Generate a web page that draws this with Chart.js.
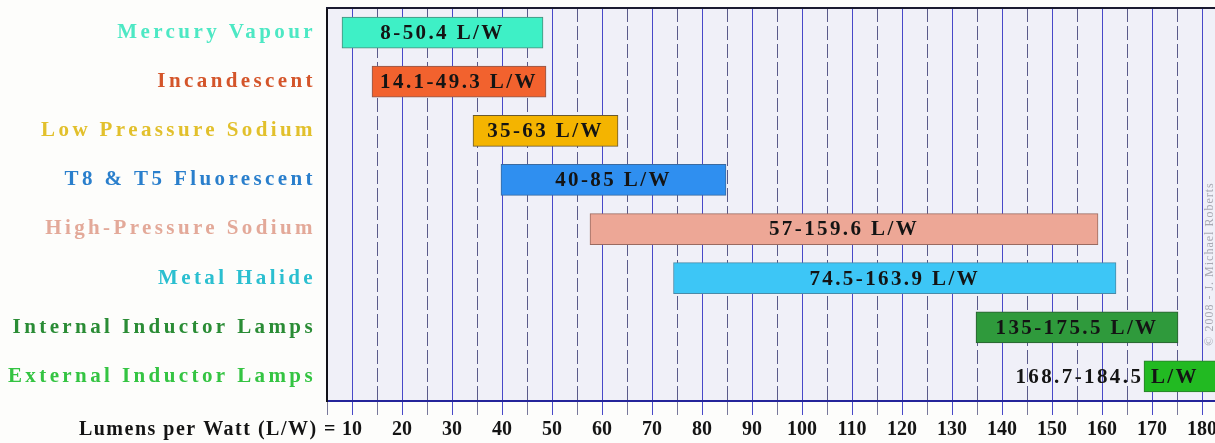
<!DOCTYPE html>
<html><head><meta charset="utf-8">
<script src="https://cdn.jsdelivr.net/npm/chart.js@4/dist/chart.umd.min.js"></script>
<style>html,body{margin:0;padding:0;background:#fdfdfb;overflow:hidden}canvas{display:block}</style>
</head><body>
<canvas id="c" width="1215" height="443"></canvas>
<script>
const categories = ['Mercury Vapour','Incandescent','Low Preassure Sodium','T8 & T5 Fluorescent','High-Pressure Sodium','Metal Halide','Internal Inductor Lamps','External Inductor Lamps'];
const lowValues  = [8, 14, 34.2, 39.8, 57.6, 74.3, 134.8, 168.4];
const highValues = [48.2, 48.8, 63.2, 84.8, 159.2, 162.8, 175.2, 184.5];
const rangeLabels = ['8-50.4 L/W','14.1-49.3 L/W','35-63 L/W','40-85 L/W','57-159.6 L/W','74.5-163.9 L/W','135-175.5 L/W','168.7-184.5 L/W'];
const labelColors = ['#4de8c4','#d4552a','#e2c02c','#2a7fcc','#e3a999','#2bbfd0','#2a8c35','#34c442'];
const barColors = ['#3ef0c6','#f2622e','#f4b400','#2f8ff0','#eda796','#3dc6f6','#2f9a3c','#22ba22'];
const barBorderColors = ['#4a8a7a','#8a5a50','#6a5a30','#3a6aa0','#9a6a60','#4a8aa8','#2a5a30','#2a7a2a'];
const axisTitle = 'Lumens per Watt (L/W) =';
const copyright = '\u00A9 2008 - J. Michael Roberts';
const xMin = 5, xMax = 182.6, xStep = 5;

const SERIF = '"Liberation Serif", "Times New Roman", serif';
const isMajor = v => Math.abs(v % 10) < 1e-6;

const decor = {
  id: 'decor',
  beforeDraw(chart) {
    const {ctx, chartArea: a} = chart;
    ctx.save();
    ctx.fillStyle = '#f0f0f8';
    ctx.fillRect(a.left, a.top, a.right - a.left, a.bottom - a.top);
    ctx.restore();
    ctx.letterSpacing = '3.4px';
  },
  afterDatasetsDraw(chart) {
    const {ctx, chartArea: a} = chart;
    const meta = chart.getDatasetMeta(0);
    ctx.save();
    ctx.letterSpacing = '2.4px';
    ctx.font = 'bold 21px ' + SERIF;
    ctx.fillStyle = '#141414';
    ctx.textAlign = 'center';
    ctx.textBaseline = 'middle';
    meta.data.forEach((el, i) => {
      const txt = rangeLabels[i];
      const w = ctx.measureText(txt).width;
      let cx = (el.x + el.base) / 2;
      if (cx + w / 2 > a.right - 16) cx = a.right - 16 - w / 2;
      ctx.fillText(txt, cx, el.y + 1);
    });
    ctx.restore();
    ctx.letterSpacing = '0px';
  },
  afterDraw(chart) {
    const {ctx, chartArea: a, scales} = chart;
    ctx.save();
    ctx.strokeStyle = '#1a1a30';
    ctx.lineWidth = 2;
    ctx.beginPath();
    ctx.moveTo(a.left - 1, a.top);
    ctx.lineTo(a.right, a.top);
    ctx.stroke();
    ctx.letterSpacing = '1.5px';
    ctx.font = 'bold 20px ' + SERIF;
    ctx.fillStyle = '#141414';
    ctx.textAlign = 'right';
    ctx.textBaseline = 'middle';
    ctx.fillText(axisTitle, scales.x.getPixelForValue(10) - 15, a.bottom + 29);
    ctx.letterSpacing = '1px';
    ctx.font = '12px ' + SERIF;
    ctx.fillStyle = '#a8a8b2';
    ctx.textAlign = 'center';
    ctx.translate(1210, 264);
    ctx.rotate(-Math.PI / 2);
    ctx.fillText(copyright, 0, 0);
    ctx.restore();
  }
};

new Chart(document.getElementById('c'), {
  type: 'bar',
  data: {
    labels: categories,
    datasets: [{
      data: lowValues.map((l, i) => [l, highValues[i]]),
      backgroundColor: barColors,
      borderColor: barBorderColors,
      borderWidth: 1,
      borderSkipped: false,
      barThickness: 31
    }]
  },
  options: {
    indexAxis: 'y',
    responsive: false,
    animation: false,
    devicePixelRatio: 1,
    layout: { padding: { top: 8, right: 0, bottom: 0, left: 0 } },
    plugins: { legend: { display: false }, tooltip: { enabled: false } },
    scales: {
      x: {
        type: 'linear',
        min: xMin, max: xMax,
        afterFit(s) { s.height = 42; s.paddingLeft = 0; s.paddingRight = 0; },
        ticks: {
          stepSize: xStep,
          includeBounds: false,
          autoSkip: false,
          maxRotation: 0,
          padding: 3,
          z: 1,
          color: '#141414',
          font: { family: SERIF, size: 20, weight: 'bold' },
          callback: v => isMajor(v) ? String(v) : ''
        },
        grid: {
          color: c => (c.tick && isMajor(c.tick.value)) ? '#4848c8' : '#5a5a8a',
          lineWidth: 1,
          tickLength: 14,
          tickColor: c => (c.tick && isMajor(c.tick.value)) ? '#4848c8' : '#78789a'
        },
        border: {
          display: true, color: '#24249a', width: 2,
          dash: c => (c.tick && !isMajor(c.tick.value)) ? [14, 4] : []
        }
      },
      y: {
        afterFit(s) { s.width = 327; s.paddingTop = 0; s.paddingBottom = 0; },
        grid: { display: false, drawTicks: false },
        border: { display: true, color: '#111118', width: 2 },
        ticks: {
          padding: 11,
          color: c => labelColors[c.index],
          font: { family: SERIF, size: 21, weight: 'bold' }
        }
      }
    }
  },
  plugins: [decor]
});
</script>
</body></html>
